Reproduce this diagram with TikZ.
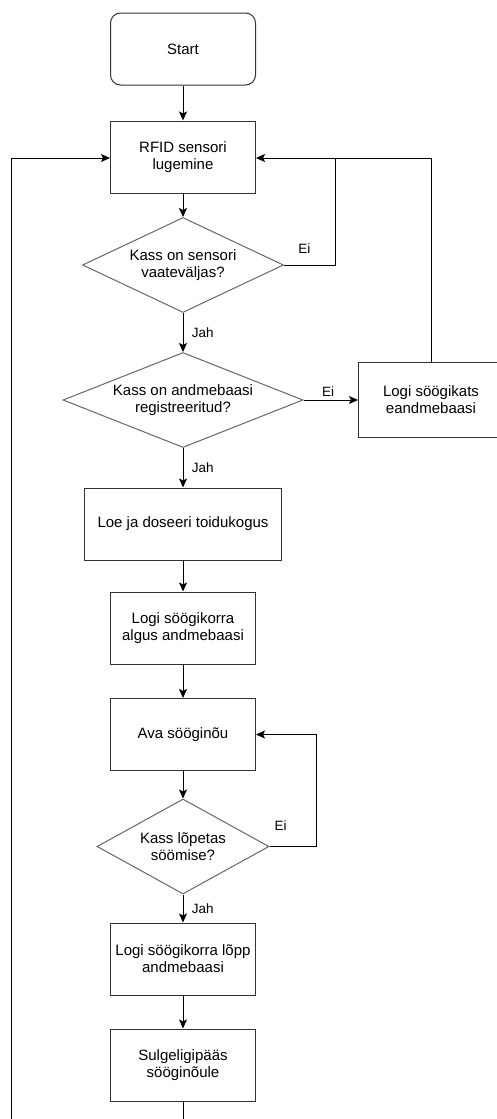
\documentclass[tikz,border=0pt]{standalone}
\usepackage{fontspec}
\setmainfont{Liberation Sans}
\usetikzlibrary{shapes.geometric,arrows.meta}

\begin{document}
\begin{tikzpicture}[
                x=1pt,y=-1pt,
                font=\fontsize{15}{17}\selectfont,
                startbox/.style={rectangle,rounded corners=10pt,draw=black!80,line width=1pt,minimum width=145,minimum height=72,align=center},
                stepbox/.style={rectangle,draw=black!80,line width=1pt,minimum width=145,minimum height=72,align=center},
                decision/.style={diamond,draw=black!60,line width=1pt,inner sep=0pt,aspect=2,align=center},
                flow/.style={line width=1pt,-{Stealth[length=9pt,width=8pt,inset=2pt]}},
                line/.style={line width=1pt},
                answer/.style={font=\fontsize{13.5}{15}\selectfont}
            ]
                \useasboundingbox (0,0) rectangle (496,1119);
                \node[startbox] (start) at (183,49) {Start};
                \node[stepbox] (rfid) at (183,157) {RFID sensori\\lugemine};
                \node[decision,minimum width=201,minimum height=95] (seen) at (183,265) {Kass on sensori\\vaateväljas?};
                \node[decision,minimum width=240,minimum height=95,aspect=2.5] (known) at (183,400) {Kass on andmebaasi\\registreeritud?};
                \node[stepbox,minimum height=75] (unknown) at (431,399.5) {Logi söögikats\\eandmebaasi};
                \node[stepbox,minimum width=197] (dose) at (183,524) {Loe ja doseeri toidukogus};
                \node[stepbox] (begin) at (183,628) {Logi söögikorra\\algus andmebaasi};
                \node[stepbox] (open) at (183,734.5) {Ava sööginõu};
                \node[decision,minimum width=172,minimum height=95,aspect=1.8] (done) at (183,846.5) {Kass lõpetas\\söömise?};
                \node[stepbox] (end) at (183,959) {Logi söögikorra lõpp\\andmebaasi};
                \node[stepbox] (close) at (183,1065) {Sulgeligipääs\\sööginõule};
                \coordinate (bottom) at (183,1125);
                \coordinate (back) at (11,1125);

                \draw[flow] (start) -- (rfid);
                \draw[flow] (rfid) -- (seen);
                \draw[flow] (seen) -- node[answer,right=5pt] {Jah} (known);
                \draw[flow] (seen.east) -| (335,158) node[answer,pos=0.2,above=8pt] {Ei} -- (rfid.east |- 0,158);
                \draw[flow] (known.east) -- node[answer,above,pos=0.45] {Ei} (unknown.west |- known.east);
                \draw[line] (unknown.north) |- (335,158);
                \draw[flow] (known) -- node[answer,right=5pt] {Jah} (dose);
                \draw[flow] (dose) -- (begin);
                \draw[flow] (begin) -- (open);
                \draw[flow] (open) -- (done);
                \draw[flow] (done.east) -| (316,734.5) node[answer,pos=0.12,above=12pt] {Ei} -- (open.east);
                \draw[flow] (done) -- node[answer,right=5pt] {Jah} (end);
                \draw[flow] (end) -- (close);
                \draw[line] (close) -- (bottom);
                \draw[flow] (back) |- (rfid.west |- 0,158);
            \end{tikzpicture}
\end{document}
